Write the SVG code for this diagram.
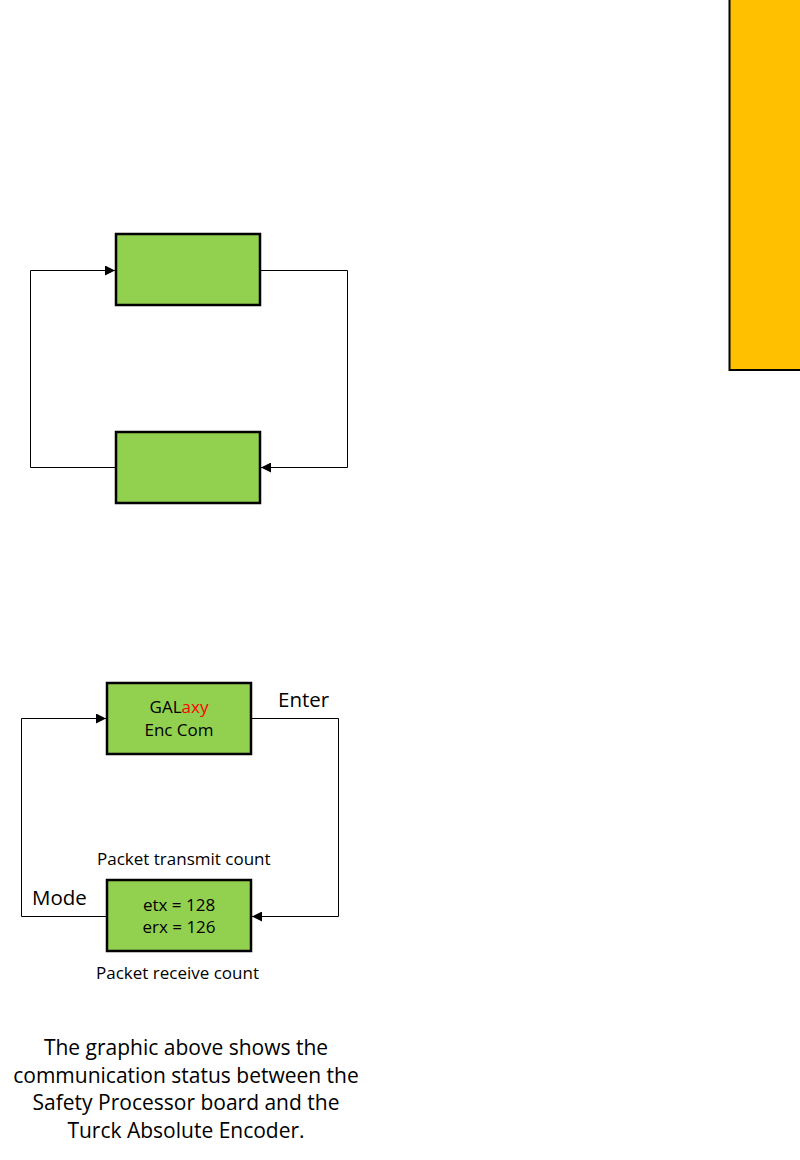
<svg xmlns="http://www.w3.org/2000/svg" width="800" height="1160" viewBox="0 0 800 1160">
<style>
.box{fill:#92d050;stroke:#000;stroke-width:2.5}
.ln{fill:none;stroke:#000;stroke-width:1}
text{font-family:"Open Sans","Liberation Sans",sans-serif;fill:#000}
.t{font-size:17px}
.c{text-anchor:middle}
.lbl{font-size:20.5px}
.sm{font-size:17px}
.p{font-size:21px;text-anchor:middle}
</style>
<defs>
<marker id="ah" markerWidth="10" markerHeight="10" refX="10" refY="5" orient="auto" markerUnits="userSpaceOnUse">
<path d="M0,0 L10,5 L0,10 Z" fill="#000"/>
</marker>
</defs>
<rect id="side" x="729.5" y="-2" width="75" height="372" fill="#ffc000" stroke="#000" stroke-width="2"/>
<g id="connectors">
<path class="ln" d="M115.5,467.5 H30.5 V270.5 H115" marker-end="url(#ah)"/>
<path class="ln" d="M260.5,270.5 H347.5 V467.5 H261" marker-end="url(#ah)"/>
<path class="ln" d="M106.5,916.5 H21.5 V718.5 H106" marker-end="url(#ah)"/>
<path class="ln" d="M251.5,718.5 H338.5 V916.5 H252" marker-end="url(#ah)"/>
</g>
<g id="top1"><rect class="box" x="116" y="234" width="144" height="71"/></g>
<g id="top2"><rect class="box" x="116" y="432" width="144" height="71"/></g>
<g id="enc">
<rect class="box" x="107" y="683" width="144" height="71"/>
<text class="t c" x="179" y="713">GAL<tspan fill="#ff0000">axy</tspan></text>
<text class="t c" x="179" y="736">Enc Com</text>
</g>
<g id="count">
<rect class="box" x="107" y="880" width="144" height="71"/>
<text class="t c" x="179" y="911">etx = 128</text>
<text class="t c" x="179" y="933">erx = 126</text>
</g>
<text class="lbl" x="278" y="707">Enter</text>
<text class="lbl" x="32" y="905">Mode</text>
<text class="sm" x="97" y="865">Packet transmit count</text>
<text class="sm" x="96" y="979">Packet receive count</text>
<g id="caption">
<text class="p" x="186" y="1055">The graphic above shows the</text>
<text class="p" x="186" y="1083">communication status between the</text>
<text class="p" x="186" y="1110">Safety Processor board and the</text>
<text class="p" x="186" y="1138">Turck Absolute Encoder.</text>
</g>
</svg>
